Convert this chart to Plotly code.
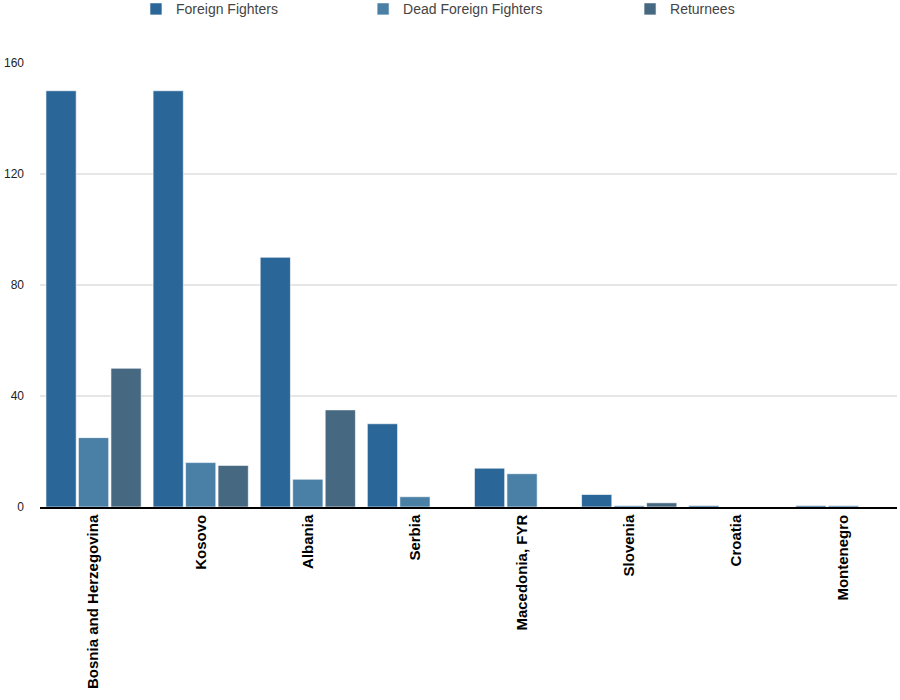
import plotly.graph_objects as go

countries = ['Bosnia and Herzegovina', 'Kosovo', 'Albania', 'Serbia',
             'Macedonia, FYR', 'Slovenia', 'Croatia', 'Montenegro']
foreign_fighters = [150, 150, 90, 30, 14, 4.5, 0.5, 0.5]
dead_fighters = [25, 16, 10, 3.7, 12, 0.5, 0, 0.5]
returnees = [50, 15, 35, 0, 0, 1.5, 0, 0]

series_names = ['Foreign Fighters', 'Dead Foreign Fighters', 'Returnees']
series_colors = ['#2b6699', '#4a7fa6', '#466880']
y_ticks = [0, 40, 80, 120, 160]

fig = go.Figure()
legend_ids = ['legend', 'legend2', 'legend3']
for name, vals, color, lg in zip(series_names,
                                 [foreign_fighters, dead_fighters, returnees],
                                 series_colors, legend_ids):
    fig.add_trace(go.Bar(
        x=countries, y=vals, name=name, legend=lg,
        marker=dict(color=color, line=dict(color='rgba(255,255,255,0.6)', width=1)),
    ))

# three separate legends so the entries sit where they do in the original
legend_style = dict(orientation='h', yanchor='top', xanchor='left',
                    bgcolor='rgba(0,0,0,0)',
                    font=dict(family='Liberation Sans', size=14, color='#444444'))
fig.update_layout(
    width=900, height=700,
    showlegend=True,
    plot_bgcolor='white', paper_bgcolor='white',
    margin=dict(l=40, r=3, t=63, b=193, autoexpand=False),
    barmode='group', bargap=0.09, bargroupgap=0.07,
    font=dict(family='Liberation Sans', size=12, color='#222222'),
    legend=dict(x=0.112, y=1.157, **legend_style),
    legend2=dict(x=0.377, y=1.157, **legend_style),
    legend3=dict(x=0.6885, y=1.157, **legend_style),
    xaxis=dict(tickangle=-90, showline=True, linecolor='black', linewidth=1.5,
               ticks='', ticklen=0, automargin=False, ticklabelstandoff=0,
               tickfont=dict(size=15, color='black', weight='bold')),
    yaxis=dict(range=[0, 160], tickvals=y_ticks, showgrid=True,
               gridcolor='#e6e6e6', gridwidth=2, zeroline=False, automargin=False,
               ticklabelstandoff=15, tickfont=dict(size=12, color='#222222')),
)

# drop the browser's default 8px body margin so the figure fills the window
fig.write_html("out.html", config={'displayModeBar': False},
               post_script="document.body.style.margin = '0px';")
